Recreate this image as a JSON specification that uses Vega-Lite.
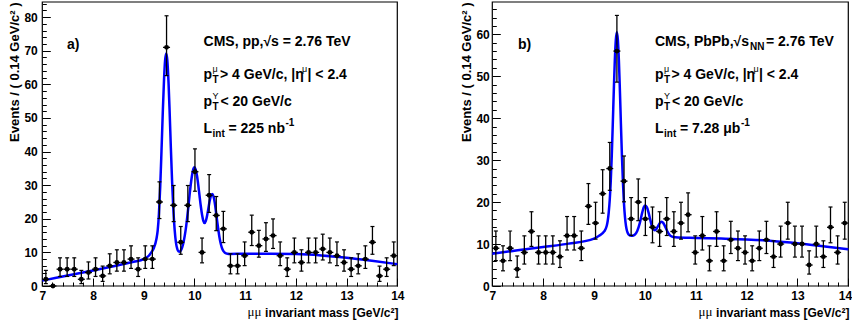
{
  "$schema": "https://vega.github.io/schema/vega-lite/v6.json",
  "width": 852,
  "height": 325,
  "autosize": {"type": "none"},
  "padding": 0,
  "background": "white",
  "config": {"view": {"stroke": null}, "font": "Liberation Sans", "text": {"font": "Liberation Sans", "color": "black", "align": "left", "baseline": "alphabetic", "fontWeight": "bold", "fontSize": 14}},
  "datasets": {
    "pp": [
      {"m": 7.07, "n": 2, "lo": 0.71, "hi": 4.64},
      {"m": 7.21, "n": 0, "lo": 0, "hi": 0},
      {"m": 7.35, "n": 5, "lo": 2.84, "hi": 8.38},
      {"m": 7.49, "n": 5, "lo": 2.84, "hi": 8.38},
      {"m": 7.63, "n": 5, "lo": 2.84, "hi": 8.38},
      {"m": 7.77, "n": 2, "lo": 0.71, "hi": 4.64},
      {"m": 7.91, "n": 4, "lo": 2.09, "hi": 7.16},
      {"m": 8.05, "n": 5, "lo": 2.84, "hi": 8.38},
      {"m": 8.19, "n": 3, "lo": 1.37, "hi": 5.92},
      {"m": 8.33, "n": 6, "lo": 3.62, "hi": 9.58},
      {"m": 8.47, "n": 7, "lo": 4.42, "hi": 10.77},
      {"m": 8.61, "n": 7, "lo": 4.42, "hi": 10.77},
      {"m": 8.75, "n": 8, "lo": 5.23, "hi": 11.95},
      {"m": 8.89, "n": 5, "lo": 2.84, "hi": 8.38},
      {"m": 9.03, "n": 8, "lo": 5.23, "hi": 11.95},
      {"m": 9.17, "n": 8, "lo": 5.23, "hi": 11.95},
      {"m": 9.31, "n": 25, "lo": 20.07, "hi": 30.99},
      {"m": 9.45, "n": 71, "lo": 62.6, "hi": 80.4},
      {"m": 9.59, "n": 24, "lo": 19.16, "hi": 29.9},
      {"m": 9.73, "n": 13, "lo": 9.44, "hi": 17.7},
      {"m": 9.87, "n": 24, "lo": 19.16, "hi": 29.9},
      {"m": 10.01, "n": 34, "lo": 28.2, "hi": 40.8},
      {"m": 10.15, "n": 10, "lo": 6.89, "hi": 14.27},
      {"m": 10.29, "n": 27, "lo": 21.89, "hi": 33.15},
      {"m": 10.43, "n": 21, "lo": 16.47, "hi": 26.62},
      {"m": 10.57, "n": 17, "lo": 12.92, "hi": 22.2},
      {"m": 10.71, "n": 6, "lo": 3.62, "hi": 9.58},
      {"m": 10.85, "n": 6, "lo": 3.62, "hi": 9.58},
      {"m": 10.99, "n": 9, "lo": 6.06, "hi": 13.11},
      {"m": 11.13, "n": 16, "lo": 12.04, "hi": 21.08},
      {"m": 11.27, "n": 12, "lo": 8.58, "hi": 16.56},
      {"m": 11.41, "n": 14, "lo": 10.3, "hi": 18.83},
      {"m": 11.55, "n": 15, "lo": 11.17, "hi": 19.96},
      {"m": 11.69, "n": 9, "lo": 6.06, "hi": 13.11},
      {"m": 11.83, "n": 5, "lo": 2.84, "hi": 8.38},
      {"m": 11.97, "n": 10, "lo": 6.89, "hi": 14.27},
      {"m": 12.11, "n": 7, "lo": 4.42, "hi": 10.77},
      {"m": 12.25, "n": 10, "lo": 6.89, "hi": 14.27},
      {"m": 12.39, "n": 10, "lo": 6.89, "hi": 14.27},
      {"m": 12.53, "n": 11, "lo": 7.74, "hi": 15.42},
      {"m": 12.67, "n": 10, "lo": 6.89, "hi": 14.27},
      {"m": 12.81, "n": 9, "lo": 6.06, "hi": 13.11},
      {"m": 12.95, "n": 7, "lo": 4.42, "hi": 10.77},
      {"m": 13.09, "n": 5, "lo": 2.84, "hi": 8.38},
      {"m": 13.23, "n": 6, "lo": 3.62, "hi": 9.58},
      {"m": 13.37, "n": 8, "lo": 5.23, "hi": 11.95},
      {"m": 13.51, "n": 13, "lo": 9.44, "hi": 17.7},
      {"m": 13.65, "n": 3, "lo": 1.37, "hi": 5.92},
      {"m": 13.79, "n": 5, "lo": 2.84, "hi": 8.38},
      {"m": 13.93, "n": 9, "lo": 6.06, "hi": 13.11}
    ],
    "pbpb": [
      {"m": 7.07, "n": 9, "lo": 6.06, "hi": 13.11},
      {"m": 7.21, "n": 6, "lo": 3.62, "hi": 9.58},
      {"m": 7.35, "n": 9, "lo": 6.06, "hi": 13.11},
      {"m": 7.49, "n": 4, "lo": 2.09, "hi": 7.16},
      {"m": 7.63, "n": 8, "lo": 5.23, "hi": 11.95},
      {"m": 7.77, "n": 13, "lo": 9.44, "hi": 17.7},
      {"m": 7.91, "n": 8, "lo": 5.23, "hi": 11.95},
      {"m": 8.05, "n": 8, "lo": 5.23, "hi": 11.95},
      {"m": 8.19, "n": 8, "lo": 5.23, "hi": 11.95},
      {"m": 8.33, "n": 7, "lo": 4.42, "hi": 10.77},
      {"m": 8.47, "n": 12, "lo": 8.58, "hi": 16.56},
      {"m": 8.61, "n": 12, "lo": 8.58, "hi": 16.56},
      {"m": 8.75, "n": 9, "lo": 6.06, "hi": 13.11},
      {"m": 8.89, "n": 19, "lo": 14.69, "hi": 24.42},
      {"m": 9.03, "n": 15, "lo": 11.17, "hi": 19.96},
      {"m": 9.17, "n": 22, "lo": 17.36, "hi": 27.72},
      {"m": 9.31, "n": 28, "lo": 22.81, "hi": 34.22},
      {"m": 9.45, "n": 56, "lo": 48.6, "hi": 64.5},
      {"m": 9.59, "n": 25, "lo": 20.07, "hi": 30.99},
      {"m": 9.73, "n": 16, "lo": 12.04, "hi": 21.08},
      {"m": 9.87, "n": 20, "lo": 15.57, "hi": 25.52},
      {"m": 10.01, "n": 16, "lo": 12.04, "hi": 21.08},
      {"m": 10.15, "n": 14, "lo": 10.3, "hi": 18.83},
      {"m": 10.29, "n": 13, "lo": 9.44, "hi": 17.7},
      {"m": 10.43, "n": 16, "lo": 12.04, "hi": 21.08},
      {"m": 10.57, "n": 13, "lo": 9.44, "hi": 17.7},
      {"m": 10.71, "n": 15, "lo": 11.17, "hi": 19.96},
      {"m": 10.85, "n": 17, "lo": 12.92, "hi": 22.2},
      {"m": 10.99, "n": 8, "lo": 5.23, "hi": 11.95},
      {"m": 11.13, "n": 12, "lo": 8.58, "hi": 16.56},
      {"m": 11.27, "n": 6, "lo": 3.62, "hi": 9.58},
      {"m": 11.41, "n": 13, "lo": 9.44, "hi": 17.7},
      {"m": 11.55, "n": 6, "lo": 3.62, "hi": 9.58},
      {"m": 11.69, "n": 11, "lo": 7.74, "hi": 15.42},
      {"m": 11.83, "n": 9, "lo": 6.06, "hi": 13.11},
      {"m": 11.97, "n": 8, "lo": 5.23, "hi": 11.95},
      {"m": 12.11, "n": 6, "lo": 3.62, "hi": 9.58},
      {"m": 12.25, "n": 9, "lo": 6.06, "hi": 13.11},
      {"m": 12.39, "n": 11, "lo": 7.74, "hi": 15.42},
      {"m": 12.53, "n": 7, "lo": 4.42, "hi": 10.77},
      {"m": 12.67, "n": 10, "lo": 6.89, "hi": 14.27},
      {"m": 12.81, "n": 15, "lo": 11.17, "hi": 19.96},
      {"m": 12.95, "n": 10, "lo": 6.89, "hi": 14.27},
      {"m": 13.09, "n": 10, "lo": 6.89, "hi": 14.27},
      {"m": 13.23, "n": 5, "lo": 2.84, "hi": 8.38},
      {"m": 13.37, "n": 10, "lo": 6.89, "hi": 14.27},
      {"m": 13.51, "n": 7, "lo": 4.42, "hi": 10.77},
      {"m": 13.65, "n": 14, "lo": 10.3, "hi": 18.83},
      {"m": 13.79, "n": 8, "lo": 5.23, "hi": 11.95},
      {"m": 13.93, "n": 15, "lo": 11.17, "hi": 19.96}
    ],
    "ppfit": [
      {"m": 7.0, "f": 1.6}, {"m": 7.5, "f": 3.1}, {"m": 8.0, "f": 4.6}, {"m": 8.5, "f": 6.2},
      {"m": 8.8, "f": 7.2}, {"m": 9.0, "f": 8.0}, {"m": 9.05, "f": 8.4}, {"m": 9.1, "f": 9.0},
      {"m": 9.15, "f": 10.0}, {"m": 9.2, "f": 11.3}, {"m": 9.25, "f": 14.0}, {"m": 9.275, "f": 16.5},
      {"m": 9.3, "f": 21.5}, {"m": 9.325, "f": 29.5}, {"m": 9.35, "f": 40.0}, {"m": 9.375, "f": 51.3},
      {"m": 9.4, "f": 61.3}, {"m": 9.42, "f": 66.9}, {"m": 9.443, "f": 69.2}, {"m": 9.465, "f": 67.2},
      {"m": 9.49, "f": 60.2}, {"m": 9.51, "f": 52.2}, {"m": 9.535, "f": 41.1}, {"m": 9.56, "f": 30.8},
      {"m": 9.585, "f": 22.5}, {"m": 9.61, "f": 16.7}, {"m": 9.635, "f": 13.0}, {"m": 9.66, "f": 11.1},
      {"m": 9.685, "f": 10.3}, {"m": 9.71, "f": 10.2}, {"m": 9.735, "f": 10.7}, {"m": 9.76, "f": 11.6},
      {"m": 9.785, "f": 13.05}, {"m": 9.81, "f": 15.05}, {"m": 9.835, "f": 17.6}, {"m": 9.86, "f": 20.8},
      {"m": 9.885, "f": 24.3}, {"m": 9.91, "f": 27.9}, {"m": 9.935, "f": 31.1}, {"m": 9.96, "f": 33.6},
      {"m": 9.98, "f": 34.9}, {"m": 10.0, "f": 35.3}, {"m": 10.025, "f": 34.6}, {"m": 10.05, "f": 32.8},
      {"m": 10.075, "f": 30.1}, {"m": 10.1, "f": 26.9}, {"m": 10.125, "f": 23.8}, {"m": 10.15, "f": 21.2},
      {"m": 10.175, "f": 19.4}, {"m": 10.2, "f": 18.75}, {"m": 10.225, "f": 19.4}, {"m": 10.25, "f": 21.0},
      {"m": 10.275, "f": 23.1}, {"m": 10.3, "f": 25.3}, {"m": 10.325, "f": 26.85}, {"m": 10.35, "f": 27.4},
      {"m": 10.375, "f": 26.7}, {"m": 10.4, "f": 24.8}, {"m": 10.425, "f": 22.1}, {"m": 10.45, "f": 19.1},
      {"m": 10.475, "f": 16.3}, {"m": 10.5, "f": 13.9}, {"m": 10.525, "f": 12.2}, {"m": 10.55, "f": 11.0},
      {"m": 10.575, "f": 10.3}, {"m": 10.6, "f": 9.9}, {"m": 10.65, "f": 9.6}, {"m": 10.7, "f": 9.55},
      {"m": 11.0, "f": 9.6}, {"m": 11.5, "f": 9.6}, {"m": 12.0, "f": 9.5}, {"m": 12.5, "f": 9.1},
      {"m": 13.0, "f": 8.4}, {"m": 13.5, "f": 7.5}, {"m": 14.0, "f": 6.5}
    ],
    "pbpbfit": [
      {"m": 7.0, "f": 7.7}, {"m": 7.5, "f": 8.5}, {"m": 8.0, "f": 9.3}, {"m": 8.5, "f": 10.1},
      {"m": 9.0, "f": 11.3}, {"m": 9.1, "f": 12.0}, {"m": 9.2, "f": 13.0}, {"m": 9.249, "f": 14.3},
      {"m": 9.269, "f": 15.5}, {"m": 9.289, "f": 17.5}, {"m": 9.309, "f": 20.5}, {"m": 9.329, "f": 24.9},
      {"m": 9.349, "f": 31.0}, {"m": 9.369, "f": 38.6}, {"m": 9.389, "f": 46.6}, {"m": 9.409, "f": 53.8},
      {"m": 9.429, "f": 58.7}, {"m": 9.449, "f": 60.5}, {"m": 9.469, "f": 58.7}, {"m": 9.489, "f": 53.8},
      {"m": 9.509, "f": 46.6}, {"m": 9.529, "f": 38.6}, {"m": 9.549, "f": 31.0}, {"m": 9.569, "f": 24.6},
      {"m": 9.589, "f": 19.7}, {"m": 9.609, "f": 16.4}, {"m": 9.629, "f": 14.3}, {"m": 9.649, "f": 13.1},
      {"m": 9.669, "f": 12.5}, {"m": 9.689, "f": 12.2}, {"m": 9.72, "f": 12.0}, {"m": 9.75, "f": 11.95},
      {"m": 9.8, "f": 12.2}, {"m": 9.85, "f": 13.1}, {"m": 9.9, "f": 15.0}, {"m": 9.95, "f": 17.6},
      {"m": 9.98, "f": 18.8}, {"m": 10.01, "f": 19.2}, {"m": 10.04, "f": 18.75}, {"m": 10.07, "f": 17.6},
      {"m": 10.1, "f": 16.1}, {"m": 10.13, "f": 14.65}, {"m": 10.16, "f": 13.7}, {"m": 10.19, "f": 13.3},
      {"m": 10.22, "f": 13.5}, {"m": 10.25, "f": 14.1}, {"m": 10.28, "f": 14.75}, {"m": 10.31, "f": 15.2},
      {"m": 10.33, "f": 15.3}, {"m": 10.36, "f": 15.05}, {"m": 10.39, "f": 14.4}, {"m": 10.42, "f": 13.6},
      {"m": 10.45, "f": 12.85}, {"m": 10.48, "f": 12.3}, {"m": 10.52, "f": 11.85}, {"m": 10.56, "f": 11.66},
      {"m": 10.6, "f": 11.6}, {"m": 11.0, "f": 11.45}, {"m": 11.5, "f": 11.3}, {"m": 12.0, "f": 11.1},
      {"m": 12.5, "f": 10.75}, {"m": 13.0, "f": 10.2}, {"m": 13.5, "f": 9.5}, {"m": 14.0, "f": 8.75}
    ]
  },
  "resolve": {"scale": {"x": "independent", "y": "independent"}, "axis": {"x": "independent", "y": "independent"}},
  "layer": [
    {
      "resolve": {"axis": {"x": "independent", "y": "independent"}},
      "layer": [
        {
          "data": {"values": [{}]},
          "mark": {"type": "rect", "fillOpacity": 0, "stroke": "black", "strokeWidth": 1.2},
          "encoding": {
            "x": {"datum": 7, "type": "quantitative",
              "scale": {"domain": [7, 14], "range": [42.3, 397.3], "nice": false, "zero": false},
              "axis": {"orient": "bottom", "offset": -39, "domain": false, "grid": false,
                "values": [7, 8, 9, 10, 11, 12, 13, 14],
                "tickSize": -8, "tickColor": "black", "tickWidth": 1,
                "labelPadding": 12, "labelFont": "Liberation Sans", "labelFontSize": 12, "labelFontWeight": "bold", "labelColor": "black",
                "labelFlush": false, "labelOverlap": false,
                "title": "invariant mass [GeV/c²]", "titleFont": "Liberation Sans", "titleFontSize": 12, "titleFontWeight": "bold", "titleColor": "black",
                "titleAlign": "right", "titleBaseline": "alphabetic", "titleX": 398, "titleY": 30}},
            "x2": {"datum": 14},
            "y": {"datum": 0, "type": "quantitative",
              "scale": {"domain": [0, 84.5], "range": [286, 2], "nice": false, "zero": false},
              "axis": {"orient": "left", "offset": -42.3, "domain": false, "grid": false,
                "values": [0, 10, 20, 30, 40, 50, 60, 70, 80],
                "tickSize": -8, "tickColor": "black", "tickWidth": 1,
                "labelPadding": 13, "labelFont": "Liberation Sans", "labelFontSize": 12, "labelFontWeight": "bold", "labelColor": "black",
                "labelFlush": false, "labelOverlap": false, "labelBaseline": "middle",
                "title": "Events / ( 0.14 GeV/c² )", "titleFont": "Liberation Sans", "titleFontSize": 13, "titleFontWeight": "bold", "titleColor": "black",
                "titleAngle": 270, "titleAlign": "right", "titleBaseline": "middle", "titleX": -28.3, "titleY": 2}},
            "y2": {"datum": 84.5}
          }
        },
        {
          "data": {"name": "ppfit"},
          "mark": {"type": "line", "color": "#0000ff", "strokeWidth": 2.5, "interpolate": "monotone"},
          "encoding": {
            "x": {"field": "m", "type": "quantitative",
              "axis": {"orient": "bottom", "offset": -39, "domain": false, "grid": false, "labels": false, "title": null,
                "values": [7.2,7.4,7.6,7.8,8.2,8.4,8.6,8.8,9.2,9.4,9.6,9.8,10.2,10.4,10.6,10.8,11.2,11.4,11.6,11.8,12.2,12.4,12.6,12.8,13.2,13.4,13.6,13.8],
                "tickSize": -4, "tickColor": "black", "tickWidth": 1}},
            "y": {"field": "f", "type": "quantitative",
              "axis": {"orient": "left", "offset": -42.3, "domain": false, "grid": false, "labels": false, "title": null,
                "values": [2,4,6,8,12,14,16,18,22,24,26,28,32,34,36,38,42,44,46,48,52,54,56,58,62,64,66,68,72,74,76,78,82,84],
                "tickSize": -4, "tickColor": "black", "tickWidth": 1}}
          }
        },
        {
          "data": {"name": "pp"},
          "mark": {"type": "rule", "color": "black", "strokeWidth": 1.3},
          "encoding": {
            "x": {"field": "m", "type": "quantitative", "axis": null},
            "y": {"field": "lo", "type": "quantitative", "axis": null},
            "y2": {"field": "hi"}
          }
        },
        {
          "data": {"name": "pp"},
          "mark": {"type": "tick", "orient": "horizontal", "color": "black", "size": 4, "thickness": 1.2, "opacity": 1},
          "encoding": {
            "x": {"field": "m", "type": "quantitative", "axis": null},
            "y": {"field": "hi", "type": "quantitative", "axis": null}
          }
        },
        {
          "data": {"name": "pp"},
          "mark": {"type": "tick", "orient": "horizontal", "color": "black", "size": 4, "thickness": 1.2, "opacity": 1},
          "encoding": {
            "x": {"field": "m", "type": "quantitative", "axis": null},
            "y": {"field": "lo", "type": "quantitative", "axis": null}
          }
        },
        {
          "data": {"name": "pp"},
          "mark": {"type": "tick", "orient": "horizontal", "color": "black", "size": 7, "thickness": 1.3, "opacity": 1},
          "encoding": {
            "x": {"field": "m", "type": "quantitative", "axis": null},
            "y": {"field": "n", "type": "quantitative", "axis": null}
          }
        },
        {
          "data": {"name": "pp"},
          "mark": {"type": "point", "shape": "circle", "filled": true, "color": "black", "size": 24, "opacity": 1},
          "encoding": {
            "x": {"field": "m", "type": "quantitative", "axis": null},
            "y": {"field": "n", "type": "quantitative", "axis": null}
          }
        },
        {"data": {"values": [{}]}, "mark": {"type": "text", "text": "μμ", "align": "right", "font": "Liberation Serif", "fontWeight": "normal", "fontSize": 13},
          "encoding": {"x": {"datum": 11.32, "axis": null}, "y": {"datum": -8.93, "axis": null}}},
        {"data": {"values": [{}]}, "mark": {"type": "text", "text": "a)", "fontSize": 14},
          "encoding": {"x": {"datum": 7.487, "axis": null}, "y": {"datum": 70.5, "axis": null}}},
        {"data": {"values": [{}]}, "mark": {"type": "text", "text": "CMS, pp,√s = 2.76 TeV"},
          "encoding": {"x": {"datum": 10.179, "axis": null}, "y": {"datum": 71.41, "axis": null}}},
        {"data": {"values": [{}]}, "mark": {"type": "text", "text": "p"},
          "encoding": {"x": {"datum": 10.179, "axis": null}, "y": {"datum": 61.59, "axis": null}}},
        {"data": {"values": [{}]}, "mark": {"type": "text", "text": "T", "dx": 9, "dy": 4, "fontSize": 10},
          "encoding": {"x": {"datum": 10.179, "axis": null}, "y": {"datum": 61.59, "axis": null}}},
        {"data": {"values": [{}]}, "mark": {"type": "text", "text": "μ", "dx": 9, "dy": -7, "fontSize": 9, "fontWeight": "normal"},
          "encoding": {"x": {"datum": 10.179, "axis": null}, "y": {"datum": 61.59, "axis": null}}},
        {"data": {"values": [{}]}, "mark": {"type": "text", "text": "> 4 GeV/c, |η", "dx": 16.5},
          "encoding": {"x": {"datum": 10.179, "axis": null}, "y": {"datum": 61.59, "axis": null}}},
        {"data": {"values": [{}]}, "mark": {"type": "text", "text": "μ", "dx": 98.5, "dy": -7, "fontSize": 9, "fontWeight": "normal"},
          "encoding": {"x": {"datum": 10.179, "axis": null}, "y": {"datum": 61.59, "axis": null}}},
        {"data": {"values": [{}]}, "mark": {"type": "text", "text": "| < 2.4", "dx": 104},
          "encoding": {"x": {"datum": 10.179, "axis": null}, "y": {"datum": 61.59, "axis": null}}},
        {"data": {"values": [{}]}, "mark": {"type": "text", "text": "p"},
          "encoding": {"x": {"datum": 10.179, "axis": null}, "y": {"datum": 53.56, "axis": null}}},
        {"data": {"values": [{}]}, "mark": {"type": "text", "text": "T", "dx": 9, "dy": 4, "fontSize": 10},
          "encoding": {"x": {"datum": 10.179, "axis": null}, "y": {"datum": 53.56, "axis": null}}},
        {"data": {"values": [{}]}, "mark": {"type": "text", "text": "Υ", "dx": 9, "dy": -7, "fontSize": 9, "fontWeight": "normal"},
          "encoding": {"x": {"datum": 10.179, "axis": null}, "y": {"datum": 53.56, "axis": null}}},
        {"data": {"values": [{}]}, "mark": {"type": "text", "text": "< 20 GeV/c", "dx": 17},
          "encoding": {"x": {"datum": 10.179, "axis": null}, "y": {"datum": 53.56, "axis": null}}},
        {"data": {"values": [{}]}, "mark": {"type": "text", "text": "L"},
          "encoding": {"x": {"datum": 10.179, "axis": null}, "y": {"datum": 45.67, "axis": null}}},
        {"data": {"values": [{}]}, "mark": {"type": "text", "text": "int", "dx": 9, "dy": 4, "fontSize": 10},
          "encoding": {"x": {"datum": 10.179, "axis": null}, "y": {"datum": 45.67, "axis": null}}},
        {"data": {"values": [{}]}, "mark": {"type": "text", "text": "= 225 nb", "dx": 25},
          "encoding": {"x": {"datum": 10.179, "axis": null}, "y": {"datum": 45.67, "axis": null}}},
        {"data": {"values": [{}]}, "mark": {"type": "text", "text": "-1", "dx": 82, "dy": -7, "fontSize": 10},
          "encoding": {"x": {"datum": 10.179, "axis": null}, "y": {"datum": 45.67, "axis": null}}}
      ]
    },
    {
      "resolve": {"axis": {"x": "independent", "y": "independent"}},
      "layer": [
        {
          "data": {"values": [{}]},
          "mark": {"type": "rect", "fillOpacity": 0, "stroke": "black", "strokeWidth": 1.2},
          "encoding": {
            "x": {"datum": 7, "type": "quantitative",
              "scale": {"domain": [7, 14], "range": [492.3, 848.3], "nice": false, "zero": false},
              "axis": {"orient": "bottom", "offset": -39, "domain": false, "grid": false,
                "values": [7, 8, 9, 10, 11, 12, 13, 14],
                "tickSize": -8, "tickColor": "black", "tickWidth": 1,
                "labelPadding": 12, "labelFont": "Liberation Sans", "labelFontSize": 12, "labelFontWeight": "bold", "labelColor": "black",
                "labelFlush": true, "labelFlushOffset": 3.4, "labelOverlap": false,
                "title": "invariant mass [GeV/c²]", "titleFont": "Liberation Sans", "titleFontSize": 12, "titleFontWeight": "bold", "titleColor": "black",
                "titleAlign": "right", "titleBaseline": "alphabetic", "titleX": 849, "titleY": 30}},
            "x2": {"datum": 14},
            "y": {"datum": 0, "type": "quantitative",
              "scale": {"domain": [0, 67.7], "range": [286, 2], "nice": false, "zero": false},
              "axis": {"orient": "left", "offset": -492.3, "domain": false, "grid": false,
                "values": [0, 10, 20, 30, 40, 50, 60],
                "tickSize": -8, "tickColor": "black", "tickWidth": 1,
                "labelPadding": 11, "labelFont": "Liberation Sans", "labelFontSize": 12, "labelFontWeight": "bold", "labelColor": "black",
                "labelFlush": false, "labelOverlap": false, "labelBaseline": "middle",
                "title": "Events / ( 0.14 GeV/c² )", "titleFont": "Liberation Sans", "titleFontSize": 13, "titleFontWeight": "bold", "titleColor": "black",
                "titleAngle": 270, "titleAlign": "right", "titleBaseline": "middle", "titleX": -26.3, "titleY": 2}},
            "y2": {"datum": 67.7}
          }
        },
        {
          "data": {"name": "pbpbfit"},
          "mark": {"type": "line", "color": "#0000ff", "strokeWidth": 2.5, "interpolate": "monotone"},
          "encoding": {
            "x": {"field": "m", "type": "quantitative",
              "axis": {"orient": "bottom", "offset": -39, "domain": false, "grid": false, "labels": false, "title": null,
                "values": [7.2,7.4,7.6,7.8,8.2,8.4,8.6,8.8,9.2,9.4,9.6,9.8,10.2,10.4,10.6,10.8,11.2,11.4,11.6,11.8,12.2,12.4,12.6,12.8,13.2,13.4,13.6,13.8],
                "tickSize": -4, "tickColor": "black", "tickWidth": 1}},
            "y": {"field": "f", "type": "quantitative",
              "axis": {"orient": "left", "offset": -492.3, "domain": false, "grid": false, "labels": false, "title": null,
                "values": [2,4,6,8,12,14,16,18,22,24,26,28,32,34,36,38,42,44,46,48,52,54,56,58,62,64,66],
                "tickSize": -4, "tickColor": "black", "tickWidth": 1}}
          }
        },
        {
          "data": {"name": "pbpb"},
          "mark": {"type": "rule", "color": "black", "strokeWidth": 1.3},
          "encoding": {
            "x": {"field": "m", "type": "quantitative", "axis": null},
            "y": {"field": "lo", "type": "quantitative", "axis": null},
            "y2": {"field": "hi"}
          }
        },
        {
          "data": {"name": "pbpb"},
          "mark": {"type": "tick", "orient": "horizontal", "color": "black", "size": 4, "thickness": 1.2, "opacity": 1},
          "encoding": {
            "x": {"field": "m", "type": "quantitative", "axis": null},
            "y": {"field": "hi", "type": "quantitative", "axis": null}
          }
        },
        {
          "data": {"name": "pbpb"},
          "mark": {"type": "tick", "orient": "horizontal", "color": "black", "size": 4, "thickness": 1.2, "opacity": 1},
          "encoding": {
            "x": {"field": "m", "type": "quantitative", "axis": null},
            "y": {"field": "lo", "type": "quantitative", "axis": null}
          }
        },
        {
          "data": {"name": "pbpb"},
          "mark": {"type": "tick", "orient": "horizontal", "color": "black", "size": 7, "thickness": 1.3, "opacity": 1},
          "encoding": {
            "x": {"field": "m", "type": "quantitative", "axis": null},
            "y": {"field": "n", "type": "quantitative", "axis": null}
          }
        },
        {
          "data": {"name": "pbpb"},
          "mark": {"type": "point", "shape": "circle", "filled": true, "color": "black", "size": 24, "opacity": 1},
          "encoding": {
            "x": {"field": "m", "type": "quantitative", "axis": null},
            "y": {"field": "n", "type": "quantitative", "axis": null}
          }
        },
        {"data": {"values": [{}]}, "mark": {"type": "text", "text": "μμ", "align": "right", "font": "Liberation Serif", "fontWeight": "normal", "fontSize": 13},
          "encoding": {"x": {"datum": 11.33, "axis": null}, "y": {"datum": -7.15, "axis": null}}},
        {"data": {"values": [{}]}, "mark": {"type": "text", "text": "b)", "fontSize": 14},
          "encoding": {"x": {"datum": 7.505, "axis": null}, "y": {"datum": 56.5, "axis": null}}},
        {"data": {"values": [{}]}, "mark": {"type": "text", "text": "CMS, PbPb,√s"},
          "encoding": {"x": {"datum": 10.199, "axis": null}, "y": {"datum": 57.21, "axis": null}}},
        {"data": {"values": [{}]}, "mark": {"type": "text", "text": "NN", "dx": 95, "dy": 4, "fontSize": 10},
          "encoding": {"x": {"datum": 10.199, "axis": null}, "y": {"datum": 57.21, "axis": null}}},
        {"data": {"values": [{}]}, "mark": {"type": "text", "text": " = 2.76 TeV", "dx": 111},
          "encoding": {"x": {"datum": 10.199, "axis": null}, "y": {"datum": 57.21, "axis": null}}},
        {"data": {"values": [{}]}, "mark": {"type": "text", "text": "p"},
          "encoding": {"x": {"datum": 10.199, "axis": null}, "y": {"datum": 49.34, "axis": null}}},
        {"data": {"values": [{}]}, "mark": {"type": "text", "text": "T", "dx": 9, "dy": 4, "fontSize": 10},
          "encoding": {"x": {"datum": 10.199, "axis": null}, "y": {"datum": 49.34, "axis": null}}},
        {"data": {"values": [{}]}, "mark": {"type": "text", "text": "μ", "dx": 9, "dy": -7, "fontSize": 9, "fontWeight": "normal"},
          "encoding": {"x": {"datum": 10.199, "axis": null}, "y": {"datum": 49.34, "axis": null}}},
        {"data": {"values": [{}]}, "mark": {"type": "text", "text": "> 4 GeV/c, |η", "dx": 16.5},
          "encoding": {"x": {"datum": 10.199, "axis": null}, "y": {"datum": 49.34, "axis": null}}},
        {"data": {"values": [{}]}, "mark": {"type": "text", "text": "μ", "dx": 98.5, "dy": -7, "fontSize": 9, "fontWeight": "normal"},
          "encoding": {"x": {"datum": 10.199, "axis": null}, "y": {"datum": 49.34, "axis": null}}},
        {"data": {"values": [{}]}, "mark": {"type": "text", "text": "| < 2.4", "dx": 104},
          "encoding": {"x": {"datum": 10.199, "axis": null}, "y": {"datum": 49.34, "axis": null}}},
        {"data": {"values": [{}]}, "mark": {"type": "text", "text": "p"},
          "encoding": {"x": {"datum": 10.199, "axis": null}, "y": {"datum": 42.91, "axis": null}}},
        {"data": {"values": [{}]}, "mark": {"type": "text", "text": "T", "dx": 9, "dy": 4, "fontSize": 10},
          "encoding": {"x": {"datum": 10.199, "axis": null}, "y": {"datum": 42.91, "axis": null}}},
        {"data": {"values": [{}]}, "mark": {"type": "text", "text": "Υ", "dx": 9, "dy": -7, "fontSize": 9, "fontWeight": "normal"},
          "encoding": {"x": {"datum": 10.199, "axis": null}, "y": {"datum": 42.91, "axis": null}}},
        {"data": {"values": [{}]}, "mark": {"type": "text", "text": "< 20 GeV/c", "dx": 17},
          "encoding": {"x": {"datum": 10.199, "axis": null}, "y": {"datum": 42.91, "axis": null}}},
        {"data": {"values": [{}]}, "mark": {"type": "text", "text": "L"},
          "encoding": {"x": {"datum": 10.199, "axis": null}, "y": {"datum": 36.59, "axis": null}}},
        {"data": {"values": [{}]}, "mark": {"type": "text", "text": "int", "dx": 9, "dy": 4, "fontSize": 10},
          "encoding": {"x": {"datum": 10.199, "axis": null}, "y": {"datum": 36.59, "axis": null}}},
        {"data": {"values": [{}]}, "mark": {"type": "text", "text": "= 7.28 μb", "dx": 25},
          "encoding": {"x": {"datum": 10.199, "axis": null}, "y": {"datum": 36.59, "axis": null}}},
        {"data": {"values": [{}]}, "mark": {"type": "text", "text": "-1", "dx": 86, "dy": -7, "fontSize": 10},
          "encoding": {"x": {"datum": 10.199, "axis": null}, "y": {"datum": 36.59, "axis": null}}}
      ]
    }
  ]
}
